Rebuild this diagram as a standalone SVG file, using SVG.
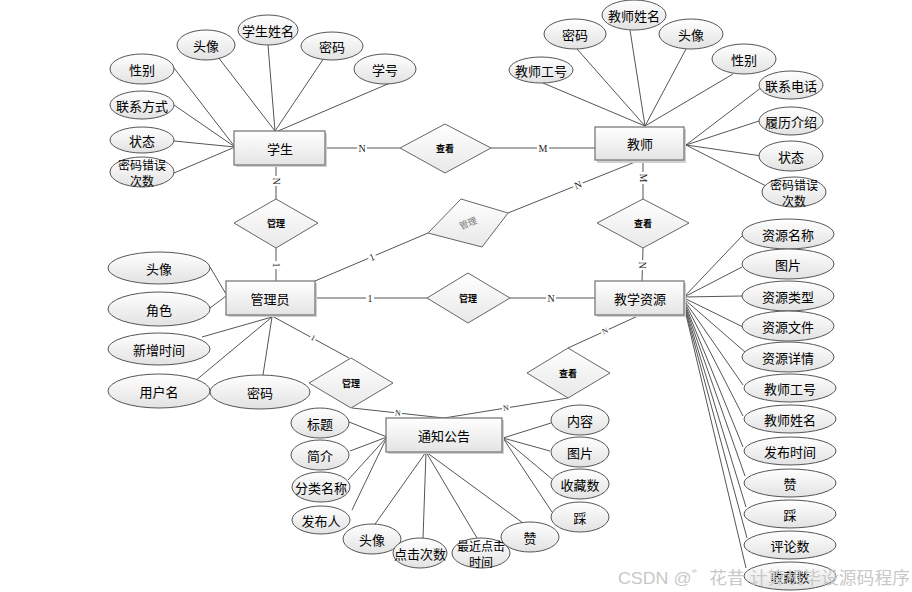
<svg xmlns="http://www.w3.org/2000/svg" width="912" height="592" viewBox="0 0 912 592">
<defs>
<linearGradient id="gEnt" x1="0" y1="0" x2="0" y2="1"><stop offset="0" stop-color="#ffffff"/><stop offset="1" stop-color="#e4e4e4"/></linearGradient>
<linearGradient id="gEll" x1="0" y1="0" x2="0" y2="1"><stop offset="0" stop-color="#ffffff"/><stop offset="1" stop-color="#e2e2e2"/></linearGradient>
<linearGradient id="gDia" x1="0" y1="0" x2="0" y2="1"><stop offset="0" stop-color="#ffffff"/><stop offset="1" stop-color="#e8e8e8"/></linearGradient>
</defs>
<style>
.ent{fill:url(#gEnt);stroke:#7a7a7a;stroke-width:1.3}
.sh{fill:#d0d0d0}
.ell{fill:url(#gEll);stroke:#555;stroke-width:1}
.dia{fill:url(#gDia);stroke:#666;stroke-width:1}
.t{font-family:"Noto Sans CJK SC","Noto Sans",sans-serif;font-size:13px;fill:#000;text-anchor:middle;dominant-baseline:central}
.t2{font-family:"Noto Sans CJK SC","Noto Sans",sans-serif;font-size:12px;fill:#000;text-anchor:middle;dominant-baseline:central}
.te{font-family:"Noto Sans CJK SC","Noto Sans",sans-serif;font-size:13px;fill:#000;text-anchor:middle;dominant-baseline:central}
.td{font-family:"Noto Sans CJK SC",sans-serif;font-size:9px;font-weight:bold;fill:#000;text-anchor:middle;dominant-baseline:central}
.ln{stroke:#555;stroke-width:1;fill:none}
.cb{fill:#fff}
.c{font-family:"Liberation Serif",serif;font-size:10px;fill:#222;text-anchor:middle;dominant-baseline:central}
.wm{font-family:"Liberation Sans","Noto Sans CJK SC",sans-serif;font-size:17px;fill:#c8c8c8}
</style>
<rect width="912" height="592" fill="#fff"/>

<g id="connectors">
<line class="ln" x1="218" y1="57" x2="275" y2="131"/>
<line class="ln" x1="268" y1="45" x2="275" y2="131"/>
<line class="ln" x1="324" y1="58" x2="275" y2="131"/>
<line class="ln" x1="390" y1="83" x2="278" y2="131"/>
<line class="ln" x1="174" y1="68" x2="235" y2="147"/>
<line class="ln" x1="174" y1="105" x2="235" y2="147"/>
<line class="ln" x1="174" y1="141" x2="235" y2="147"/>
<line class="ln" x1="174" y1="173" x2="235" y2="147"/>
<line class="ln" x1="543" y1="83" x2="645" y2="126"/>
<line class="ln" x1="577" y1="49" x2="645" y2="126"/>
<line class="ln" x1="630" y1="30" x2="645" y2="126"/>
<line class="ln" x1="686" y1="49" x2="645" y2="126"/>
<line class="ln" x1="733" y1="74" x2="645" y2="126"/>
<line class="ln" x1="762" y1="87" x2="686" y2="145"/>
<line class="ln" x1="762" y1="120" x2="686" y2="145"/>
<line class="ln" x1="762" y1="156" x2="686" y2="145"/>
<line class="ln" x1="768" y1="187" x2="686" y2="145"/>
<line class="ln" x1="210" y1="267" x2="226" y2="294"/>
<line class="ln" x1="210" y1="308" x2="226" y2="296"/>
<line class="ln" x1="202" y1="337" x2="272" y2="317"/>
<line class="ln" x1="195" y1="381" x2="272" y2="317"/>
<line class="ln" x1="263" y1="375" x2="272" y2="317"/>
<line class="ln" x1="349" y1="422" x2="387" y2="437"/>
<line class="ln" x1="350" y1="451" x2="387" y2="437"/>
<line class="ln" x1="348" y1="480" x2="387" y2="437"/>
<line class="ln" x1="352" y1="510" x2="387" y2="437"/>
<line class="ln" x1="373" y1="527" x2="426" y2="452"/>
<line class="ln" x1="423" y1="539" x2="426" y2="452"/>
<line class="ln" x1="477" y1="538" x2="426" y2="452"/>
<line class="ln" x1="523" y1="523" x2="426" y2="452"/>
<line class="ln" x1="551" y1="423" x2="503" y2="438"/>
<line class="ln" x1="550" y1="451" x2="503" y2="438"/>
<line class="ln" x1="552" y1="479" x2="503" y2="438"/>
<line class="ln" x1="552" y1="512" x2="503" y2="438"/>
<line class="ln" x1="684" y1="297" x2="742" y2="236"/>
<line class="ln" x1="684" y1="297" x2="742" y2="267"/>
<line class="ln" x1="684" y1="297" x2="742" y2="296"/>
<line class="ln" x1="684" y1="298" x2="743" y2="327"/>
<line class="ln" x1="684" y1="299" x2="745" y2="352"/>
<line class="ln" x1="684" y1="300" x2="743" y2="385"/>
<line class="ln" x1="684" y1="301" x2="743" y2="416"/>
<line class="ln" x1="684" y1="302" x2="743" y2="447"/>
<line class="ln" x1="684" y1="303" x2="745" y2="476"/>
<line class="ln" x1="684" y1="304" x2="746" y2="507"/>
<line class="ln" x1="684" y1="305" x2="747" y2="538"/>
<line class="ln" x1="684" y1="306" x2="746" y2="568"/>
<line class="ln" x1="325" y1="148" x2="400" y2="148"/>
<line class="ln" x1="491" y1="148" x2="595" y2="148"/>
<line class="ln" x1="276" y1="165" x2="276" y2="199"/>
<line class="ln" x1="276" y1="248" x2="276" y2="281"/>
<line class="ln" x1="315" y1="281" x2="428" y2="233"/>
<line class="ln" x1="508" y1="213" x2="640" y2="160"/>
<line class="ln" x1="315" y1="298" x2="427" y2="298"/>
<line class="ln" x1="510" y1="298" x2="595" y2="298"/>
<line class="ln" x1="643" y1="160" x2="643" y2="199"/>
<line class="ln" x1="643" y1="248" x2="642" y2="281"/>
<line class="ln" x1="272" y1="316" x2="349" y2="358"/>
<line class="ln" x1="352" y1="408" x2="444" y2="418"/>
<line class="ln" x1="640" y1="315" x2="568" y2="348"/>
<line class="ln" x1="568" y1="398" x2="444" y2="418"/>
<rect class="cb" x="357" y="142" width="10" height="12"/><text class="c" x="362" y="148">N</text>
<rect class="cb" x="537" y="142" width="12" height="12"/><text class="c" x="543" y="148">M</text>
<g transform="translate(276,181) rotate(90)"><rect class="cb" x="-5" y="-6" width="10" height="12"/><text class="c" x="0" y="0">N</text></g>
<g transform="translate(276,265) rotate(90)"><rect class="cb" x="-4" y="-6" width="8" height="12"/><text class="c" x="0" y="0">1</text></g>
<g transform="translate(372,257) rotate(-23)"><rect class="cb" x="-4" y="-6" width="8" height="12"/><text class="c" x="0" y="0">1</text></g>
<g transform="translate(578,185) rotate(-22)"><rect class="cb" x="-5" y="-6" width="10" height="12"/><text class="c" x="0" y="0">N</text></g>
<rect class="cb" x="366" y="292" width="8" height="12"/><text class="c" x="370" y="298">1</text>
<rect class="cb" x="546" y="292" width="10" height="12"/><text class="c" x="551" y="298">N</text>
<g transform="translate(643,178) rotate(90)"><rect class="cb" x="-6" y="-6" width="12" height="12"/><text class="c" x="0" y="0">M</text></g>
<g transform="translate(642,265) rotate(90)"><rect class="cb" x="-5" y="-6" width="10" height="12"/><text class="c" x="0" y="0">N</text></g>
<g transform="translate(313,338) rotate(29)"><rect class="cb" x="-3" y="-5" width="6" height="10"/><text class="c" x="0" y="0" style="font-size:8px">1</text></g>
<g transform="translate(398,413) rotate(6)"><rect class="cb" x="-4" y="-5" width="8" height="10"/><text class="c" x="0" y="0" style="font-size:8px">N</text></g>
<g transform="translate(605,331) rotate(-25)"><rect class="cb" x="-4" y="-5" width="8" height="10"/><text class="c" x="0" y="0" style="font-size:8px">N</text></g>
<g transform="translate(506,408) rotate(-9)"><rect class="cb" x="-4" y="-5" width="8" height="10"/><text class="c" x="0" y="0" style="font-size:8px">N</text></g>
</g>

<g id="student"><rect class="sh" x="236" y="133" width="91" height="34"/><rect class="ent" x="234" y="131" width="91" height="34"/><text class="te" x="280" y="148">学生</text></g>
<g id="teacher"><rect class="sh" x="597" y="129" width="89" height="34"/><rect class="ent" x="595" y="127" width="89" height="33"/><text class="te" x="640" y="143">教师</text></g>
<g id="admin"><rect class="sh" x="228" y="283" width="89" height="34"/><rect class="ent" x="226" y="281" width="89" height="34"/><text class="te" x="270" y="298">管理员</text></g>
<g id="resource"><rect class="sh" x="597" y="283" width="89" height="34"/><rect class="ent" x="595" y="281" width="89" height="34"/><text class="te" x="640" y="298">教学资源</text></g>
<g id="notice"><rect class="sh" x="388" y="420" width="116" height="34"/><rect class="ent" x="386" y="418" width="116" height="34"/><text class="te" x="444" y="435">通知公告</text></g>

<g id="rel-view1"><polygon class="dia" points="400,148 445,124 491,148 445,173"/><text class="td" x="445" y="148">查看</text></g>
<g id="rel-manage1"><polygon class="dia" points="234,223 276,199 318,223 276,248"/><text class="td" x="276" y="223">管理</text></g>
<g id="rel-manage2"><polygon class="dia" points="428,233 461,199 508,213 482,247"/><text class="td" x="468" y="223" transform="rotate(-22 468 223)" style="fill:#777;font-weight:normal">管理</text></g>
<g id="rel-manage3"><polygon class="dia" points="427,298 468,273 510,298 468,323"/><text class="td" x="468" y="298">管理</text></g>
<g id="rel-view2"><polygon class="dia" points="597,223 643,199 689,223 643,248"/><text class="td" x="643" y="223">查看</text></g>
<g id="rel-manage4"><polygon class="dia" points="309,383 351,358 393,383 351,408"/><text class="td" x="351" y="383">管理</text></g>
<g id="rel-view3"><polygon class="dia" points="527,373 568,348 610,373 568,398"/><text class="td" x="568" y="373">查看</text></g>

<g id="s-avatar"><ellipse class="ell" cx="206" cy="45" rx="29" ry="15"/><text class="t" x="206" y="45">头像</text></g>
<g id="s-name"><ellipse class="ell" cx="268" cy="30" rx="30" ry="15"/><text class="t" x="268" y="30">学生姓名</text></g>
<g id="s-pwd"><ellipse class="ell" cx="332" cy="46" rx="31" ry="14"/><text class="t" x="332" y="46">密码</text></g>
<g id="s-no"><ellipse class="ell" cx="385" cy="69" rx="31" ry="15"/><text class="t" x="385" y="69">学号</text></g>
<g id="s-sex"><ellipse class="ell" cx="142" cy="69" rx="32" ry="15"/><text class="t" x="142" y="69">性别</text></g>
<g id="s-contact"><ellipse class="ell" cx="142" cy="105" rx="32" ry="14"/><text class="t" x="142" y="105">联系方式</text></g>
<g id="s-status"><ellipse class="ell" cx="142" cy="140" rx="32" ry="13"/><text class="t" x="142" y="140">状态</text></g>
<g id="s-err"><ellipse class="ell" cx="142" cy="172" rx="32" ry="15"/><text class="t2" x="142" y="164">密码错误</text><text class="t2" x="142" y="180">次数</text></g>

<g id="t-no"><ellipse class="ell" cx="541" cy="70" rx="32" ry="13"/><text class="t" x="541" y="70">教师工号</text></g>
<g id="t-pwd"><ellipse class="ell" cx="575" cy="34" rx="31" ry="15"/><text class="t" x="575" y="34">密码</text></g>
<g id="t-name"><ellipse class="ell" cx="634" cy="15" rx="32" ry="15"/><text class="t" x="634" y="15">教师姓名</text></g>
<g id="t-avatar"><ellipse class="ell" cx="691" cy="34" rx="32" ry="15"/><text class="t" x="691" y="34">头像</text></g>
<g id="t-sex"><ellipse class="ell" cx="744" cy="59" rx="32" ry="15"/><text class="t" x="744" y="59">性别</text></g>
<g id="t-phone"><ellipse class="ell" cx="791" cy="85" rx="32" ry="14"/><text class="t" x="791" y="85">联系电话</text></g>
<g id="t-resume"><ellipse class="ell" cx="791" cy="121" rx="32" ry="14"/><text class="t" x="791" y="121">履历介绍</text></g>
<g id="t-status"><ellipse class="ell" cx="791" cy="156" rx="32" ry="15"/><text class="t" x="791" y="156">状态</text></g>
<g id="t-err"><ellipse class="ell" cx="794" cy="192" rx="32" ry="15"/><text class="t2" x="794" y="184">密码错误</text><text class="t2" x="794" y="200">次数</text></g>

<g id="a-avatar"><ellipse class="ell" cx="159" cy="268" rx="51" ry="16"/><text class="t" x="159" y="268">头像</text></g>
<g id="a-role"><ellipse class="ell" cx="159" cy="309" rx="51" ry="17"/><text class="t" x="159" y="309">角色</text></g>
<g id="a-time"><ellipse class="ell" cx="159" cy="349" rx="51" ry="16"/><text class="t" x="159" y="349">新增时间</text></g>
<g id="a-user"><ellipse class="ell" cx="159" cy="391" rx="51" ry="17"/><text class="t" x="159" y="391">用户名</text></g>
<g id="a-pwd"><ellipse class="ell" cx="260" cy="392" rx="50" ry="17"/><text class="t" x="260" y="392">密码</text></g>

<g id="n-title"><ellipse class="ell" cx="320" cy="423" rx="29" ry="15"/><text class="t" x="320" y="423">标题</text></g>
<g id="n-intro"><ellipse class="ell" cx="320" cy="455" rx="29" ry="15"/><text class="t" x="320" y="455">简介</text></g>
<g id="n-cat"><ellipse class="ell" cx="321" cy="487" rx="29" ry="15"/><text class="t" x="321" y="487">分类名称</text></g>
<g id="n-pub"><ellipse class="ell" cx="321" cy="520" rx="29" ry="14"/><text class="t" x="321" y="520">发布人</text></g>
<g id="n-avatar"><ellipse class="ell" cx="372" cy="539" rx="29" ry="15"/><text class="t" x="372" y="539">头像</text></g>
<g id="n-clicks"><ellipse class="ell" cx="420" cy="553" rx="27" ry="15"/><text class="t" x="420" y="553">点击次数</text></g>
<g id="n-last"><ellipse class="ell" cx="481" cy="553" rx="29" ry="15"/><text class="t2" x="481" y="545">最近点击</text><text class="t2" x="481" y="561">时间</text></g>
<g id="n-like"><ellipse class="ell" cx="530" cy="537" rx="29" ry="15"/><text class="t" x="530" y="537">赞</text></g>
<g id="n-content"><ellipse class="ell" cx="580" cy="420" rx="29" ry="15"/><text class="t" x="580" y="420">内容</text></g>
<g id="n-pic"><ellipse class="ell" cx="580" cy="452" rx="29" ry="15"/><text class="t" x="580" y="452">图片</text></g>
<g id="n-fav"><ellipse class="ell" cx="580" cy="484" rx="29" ry="15"/><text class="t" x="580" y="484">收藏数</text></g>
<g id="n-dislike"><ellipse class="ell" cx="580" cy="517" rx="29" ry="15"/><text class="t" x="580" y="517">踩</text></g>

<g id="r-name"><ellipse class="ell" cx="788" cy="234" rx="46" ry="15"/><text class="t" x="788" y="234">资源名称</text></g>
<g id="r-pic"><ellipse class="ell" cx="788" cy="264" rx="46" ry="15"/><text class="t" x="788" y="264">图片</text></g>
<g id="r-type"><ellipse class="ell" cx="788" cy="296" rx="46" ry="15"/><text class="t" x="788" y="296">资源类型</text></g>
<g id="r-file"><ellipse class="ell" cx="788" cy="326" rx="46" ry="15"/><text class="t" x="788" y="326">资源文件</text></g>
<g id="r-detail"><ellipse class="ell" cx="788" cy="357" rx="46" ry="15"/><text class="t" x="788" y="357">资源详情</text></g>
<g id="r-tno"><ellipse class="ell" cx="790" cy="388" rx="46" ry="14"/><text class="t" x="790" y="388">教师工号</text></g>
<g id="r-tname"><ellipse class="ell" cx="790" cy="419" rx="46" ry="14"/><text class="t" x="790" y="419">教师姓名</text></g>
<g id="r-time"><ellipse class="ell" cx="790" cy="451" rx="46" ry="14"/><text class="t" x="790" y="451">发布时间</text></g>
<g id="r-like"><ellipse class="ell" cx="790" cy="483" rx="46" ry="14"/><text class="t" x="790" y="483">赞</text></g>
<g id="r-dislike"><ellipse class="ell" cx="790" cy="514" rx="46" ry="14"/><text class="t" x="790" y="514">踩</text></g>
<g id="r-comments"><ellipse class="ell" cx="790" cy="545" rx="46" ry="14"/><text class="t" x="790" y="545">评论数</text></g>
<g id="r-fav"><ellipse class="ell" cx="790" cy="576" rx="46" ry="14"/><text class="t" x="790" y="576">收藏数</text></g>

<text class="wm" x="618" y="584" textLength="292" lengthAdjust="spacingAndGlyphs">CSDN @゛花昔 计算机毕设源码程序</text>
</svg>
